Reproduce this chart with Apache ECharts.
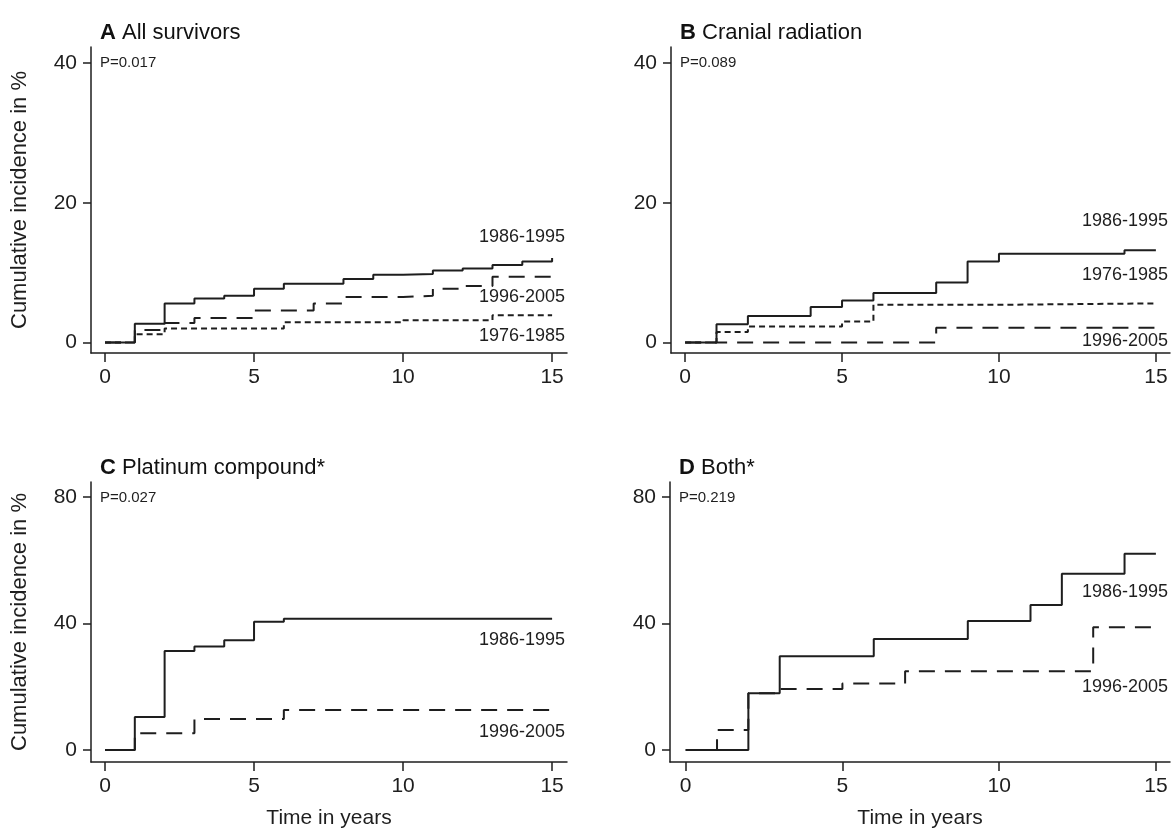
<!DOCTYPE html>
<html>
<head>
<meta charset="utf-8">
<script src="https://cdn.jsdelivr.net/npm/echarts@6/dist/echarts.min.js"></script>
<style>
html, body { margin: 0; padding: 0; background: #fff; }
#chart { width: 1173px; height: 830px; }
</style>
</head>
<body>
<div id="chart"></div>
<script>
const xTicks = [0, 5, 10, 15]
const yTicksTop = [0, 20, 40]
const yTicksBottom = [0, 40, 80]

// A All survivors
const allSurvivors1986 = [[0, 0], [1, 2.7], [2, 5.6], [3, 6.3], [4, 6.7], [5, 7.7], [6, 8.4], [8, 9.1], [9, 9.7], [10, 9.8], [11, 10.3], [12, 10.6], [13, 11.1], [14, 11.6], [15, 12.1]]
const allSurvivors1996 = [[0, 0], [1, 1.8], [2, 2.8], [3, 3.5], [5, 4.6], [7, 5.6], [8, 6.5], [10, 6.7], [11, 7.7], [12, 8.1], [13, 9.4], [15, 9.4]]
const allSurvivors1976 = [[0, 0], [1, 1.2], [2, 2.0], [6, 2.9], [10, 3.2], [13, 3.9], [15, 3.9]]

// B Cranial radiation
const cranial1986 = [[0, 0], [1, 2.6], [2, 3.8], [4, 5.1], [5, 6.0], [6, 7.1], [8, 8.6], [9, 11.6], [10, 12.7], [14, 13.2], [15, 13.2]]
const cranial1976 = [[0, 0], [1, 1.5], [2, 2.3], [5, 3.0], [6, 5.4], [10, 5.6], [15, 5.6]]
const cranial1996 = [[0, 0], [8, 2.1], [15, 2.1]]

// C Platinum compound*
const platinum1986 = [[0, 0], [1, 10.4], [2, 31.3], [3, 32.7], [4, 34.7], [5, 40.5], [6, 41.5], [15, 41.5]]
const platinum1996 = [[0, 0], [1, 5.3], [3, 9.8], [6, 12.6], [15, 12.6]]

// D Both*
const both1986 = [[0, 0], [2, 17.9], [3, 29.6], [6, 35.1], [9, 40.8], [11, 45.8], [12, 55.7], [14, 62.0], [15, 62.0]]
const both1996 = [[0, 0], [1, 6.3], [2, 17.9], [3, 19.3], [5, 21.0], [7, 24.9], [13, 38.8], [15, 38.8]]

const panelTitles = [['A', 'All survivors'], ['B', 'Cranial radiation'], ['C', 'Platinum compound*'], ['D', 'Both*']]
const pValues = ['P=0.017', 'P=0.089', 'P=0.027', 'P=0.219']

const FONT = '"Liberation Sans", Arial, sans-serif'
const INK = '#1e1e1e'
const SOLID = 'solid'
const LONG_DASH = [16, 10]
const SHORT_DASH = [6, 4]

const grids = [
  { left: 91, top: 47, width: 476, height: 306 },
  { left: 671, top: 47, width: 499, height: 306 },
  { left: 91, top: 482, width: 476, height: 281 },
  { left: 670, top: 482, width: 500, height: 281 },
]

function xAxisFor(gridIndex, min, max, showName) {
  return {
    type: 'value',
    gridIndex,
    min,
    max,
    name: showName ? 'Time in years' : '',
    nameLocation: 'middle',
    nameGap: 46,
    nameTextStyle: { fontFamily: FONT, fontSize: 21, color: INK },
    axisLine: { onZero: false, lineStyle: { color: INK, width: 1.5 } },
    axisTick: { customValues: xTicks, length: 9, lineStyle: { color: INK, width: 1.5 } },
    axisLabel: { customValues: xTicks, fontFamily: FONT, fontSize: 21, color: INK, margin: 14 },
    splitLine: { show: false },
  }
}

function yAxisFor(gridIndex, min, max, ticks, showName) {
  return {
    type: 'value',
    gridIndex,
    min,
    max,
    name: showName ? 'Cumulative incidence in %' : '',
    nameLocation: 'middle',
    nameGap: 60,
    nameTextStyle: { fontFamily: FONT, fontSize: 22, color: INK },
    axisLine: { show: true, onZero: false, lineStyle: { color: INK, width: 1.5 } },
    axisTick: { show: true, customValues: ticks, length: 8, lineStyle: { color: INK, width: 1.5 } },
    axisLabel: { customValues: ticks, fontFamily: FONT, fontSize: 21, color: INK, margin: 14 },
    splitLine: { show: false },
  }
}

function stepSeries(index, data, dash) {
  return {
    type: 'line',
    xAxisIndex: index,
    yAxisIndex: index,
    step: 'end',
    symbol: 'none',
    silent: true,
    lineStyle: { color: INK, width: 2, type: dash },
    data,
  }
}

function seriesLabel(text, right, y) {
  return {
    type: 'text',
    right: 1173 - right,
    top: y - 10,
    style: { text, fontFamily: FONT, fontSize: 18, fill: INK },
  }
}

const titles = []
panelTitles.forEach(([letter, name], i) => {
  const g = grids[i]
  titles.push({
    text: `{b|${letter}} ${name}`,
    left: g.left + 4,
    top: g.top - 30,
    textStyle: {
      fontFamily: FONT, fontSize: 22, fontWeight: 'normal', color: '#111',
      rich: { b: { fontFamily: FONT, fontSize: 22, fontWeight: 'bold', color: '#111' } },
    },
  })
})

const pLabels = pValues.map((text, i) => ({
  type: 'text',
  left: grids[i].left + 9,
  top: grids[i].top + 8,
  style: { text, fontFamily: FONT, fontSize: 15, fill: INK },
}))

const option = {
  animation: false,
  backgroundColor: '#fff',
  title: titles,
  grid: grids,
  xAxis: [
    xAxisFor(0, -0.47, 15.5, false),
    xAxisFor(1, -0.45, 15.45, false),
    xAxisFor(2, -0.47, 15.5, true),
    xAxisFor(3, -0.5, 15.45, true),
  ],
  yAxis: [
    yAxisFor(0, -1.5, 42.3, yTicksTop, true),
    yAxisFor(1, -1.5, 42.3, yTicksTop, false),
    yAxisFor(2, -3.8, 84.7, yTicksBottom, true),
    yAxisFor(3, -3.8, 84.7, yTicksBottom, false),
  ],
  series: [
    stepSeries(0, allSurvivors1976, SHORT_DASH),
    stepSeries(0, allSurvivors1996, LONG_DASH),
    stepSeries(0, allSurvivors1986, SOLID),
    stepSeries(1, cranial1976, SHORT_DASH),
    stepSeries(1, cranial1996, LONG_DASH),
    stepSeries(1, cranial1986, SOLID),
    stepSeries(2, platinum1996, LONG_DASH),
    stepSeries(2, platinum1986, SOLID),
    stepSeries(3, both1996, LONG_DASH),
    stepSeries(3, both1986, SOLID),
  ],
  graphic: [
    ...pLabels,
    seriesLabel('1986-1995', 565, 238),
    seriesLabel('1996-2005', 565, 298),
    seriesLabel('1976-1985', 565, 337),
    seriesLabel('1986-1995', 1168, 222),
    seriesLabel('1976-1985', 1168, 276),
    seriesLabel('1996-2005', 1168, 342),
    seriesLabel('1986-1995', 565, 641),
    seriesLabel('1996-2005', 565, 733),
    seriesLabel('1986-1995', 1168, 593),
    seriesLabel('1996-2005', 1168, 688),
  ],
}

const chart = echarts.init(document.getElementById('chart'))
chart.setOption(option)
</script>
</body>
</html>
